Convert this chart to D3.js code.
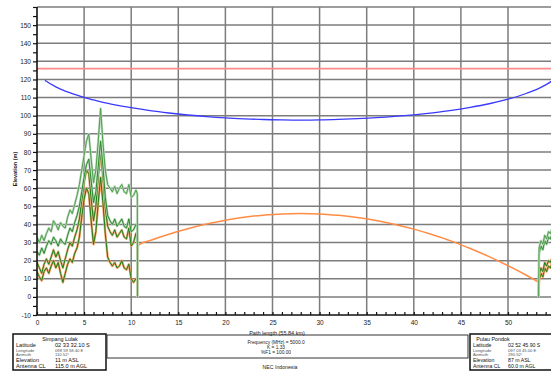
<!DOCTYPE html>
<html><head><meta charset="utf-8">
<script src="https://cdn.jsdelivr.net/npm/d3@7"></script>
<style>
html,body{margin:0;padding:0;background:#fff;overflow:hidden}
svg{display:block;font-family:"Liberation Sans",Arial,sans-serif}
</style></head><body>
<svg id="chart" width="551" height="372"></svg>
<script>
// ---- path profile data (distance in km, elevation in m) ----
const pathLengthKm = 55.84;
const losHeight = 126;

// near-end terrain, four profile traces
const nearKm = [0,0.25,0.5,0.75,1,1.25,1.5,1.75,2,2.25,2.5,2.75,3,3.25,3.5,3.75,4,4.25,4.5,4.75,5,5.25,5.5,5.75,6,6.25,6.5,6.75,7,7.25,7.5,7.75,8,8.25,8.5,8.75,9,9.25,9.5,9.75,10,10.25,10.5,10.65,10.67];
const nearTop    = [33,30,34,31,35,38,36,42,40,37,41,39,38,44,48,46,51,56,62,70,78,86,90,76,63,70,86,104,85,70,62,60,58,61,57,60,62,58,57,62,55,56,59,57,0];
const nearUpper  = [25,23,27,24,28,31,29,33,31,28,32,30,29,34,38,36,41,45,50,58,66,73,76,64,52,58,72,86,72,55,45,42,40,43,39,41,43,39,38,43,36,37,40,39,0];
const nearLower  = [19,16,13,18,21,18,22,26,22,25,20,16,21,26,30,28,33,37,43,53,63,70,68,54,42,50,66,80,66,49,39,36,34,37,33,35,37,33,32,38,28,30,35,33,0];
const nearBottom = [14,11,9,14,16,13,17,20,16,19,13,8,13,18,21,19,24,27,33,44,54,60,57,42,29,36,52,66,52,35,22,19,17,19,16,17,20,16,15,18,10,8,10,9,0];

// far-end terrain
const farKm = [53.25,53.3,53.5,53.7,53.9,54.1,54.3,54.5,54.7,54.9,55.1,55.3,55.5,55.84];
const farTop    = [0,27,31,29,34,32,36,35,38,36,39,41,40,42];
const farUpper  = [0,24,28,26,31,29,33,32,35,33,36,38,37,39];
const farLower  = [0,12,16,14,19,17,20,19,22,20,23,25,24,26];
const farBottom = [0,9,13,11,16,14,17,16,19,17,20,22,21,23];

// earth bulge across the water section
const bulgeKm = [10.67,10.8,12,14,16,18,20,22,24,26,28,30,32,34,36,38,40,42,44,46,48,50,52,53.2];
const bulgeM  = [0,28.7,31.1,34.6,37.6,40.2,42.3,44.0,45.1,45.8,46.0,45.8,45.0,43.8,42.2,40.0,37.4,34.3,30.8,26.7,22.2,17.2,11.8,8.3];

// lower edge of first Fresnel zone
const fresnelKm = [0.85,1,2,3,4,5,6,7,8,9,10,12,14,16,18,20,22,24,26,28,30,32,34,36,38,40,42,44,46,48,50,51,52,53,54,55];
const fresnelM  = [119.6,119,115.9,113.6,111.8,110.1,108.7,107.4,106.3,105.3,104.4,102.8,101.5,100.4,99.5,98.8,98.3,97.9,97.7,97.6,97.7,98,98.4,98.9,99.6,100.5,101.6,102.9,104.6,106.6,109.1,110.6,112.4,114.4,117,120.3];

// axis ticks
const yMinorTicks = d3.range(-10, 161, 5);
const xMinorTicks = d3.range(0, 56, 1);
const xGridTicks  = d3.range(5, 56, 5);
const yGridTicks  = d3.range(0, 161, 10);

const siteA = {name:"Simpang Lulak", rows:[["Latitude","02 33 32.10 S"],["Longitude","098 59 58.40 E"],["Azimuth","110.52°"],["Elevation","11 m ASL"],["Antenna CL","115.0 m AGL"]]};
const siteB = {name:"Pulau Pondok", rows:[["Latitude","02 52 45.90 S"],["Longitude","097 03 45.00 E"],["Azimuth","290.52°"],["Elevation","87 m ASL"],["Antenna CL","60.0 m AGL"]]};
const linkInfo = ["Frequency (MHz) = 5000.0", "K = 1.33", "%F1 = 100.00"];

// ---- drawing ----
const svg = d3.select("#chart");
const x = d3.scaleLinear().domain([0, pathLengthKm]).range([37, 563]);
const y = d3.scaleLinear().domain([-10, 160]).range([315, 7]);

svg.append("defs").append("clipPath").attr("id","plotClip")
  .append("rect").attr("x",37).attr("y",6).attr("width",530).attr("height",310);

const grid = svg.append("g").attr("stroke","#7c7c7c").attr("stroke-width",1.5);
grid.selectAll(".h").data(yGridTicks).join("line")
  .attr("x1",x(0)).attr("x2",x(pathLengthKm)).attr("y1",d=>y(d)).attr("y2",d=>y(d));
grid.selectAll(".v").data(xGridTicks).join("line")
  .attr("x1",d=>x(d)).attr("x2",d=>x(d)).attr("y1",y(160)).attr("y2",y(-10));

const plot = svg.append("g").attr("clip-path","url(#plotClip)");
const zipKm = (km, v) => km.map((k,i)=>[k, v[i]]);
const straight = d3.line().x(d=>x(d[0])).y(d=>y(d[1]));
const smooth = d3.line().x(d=>x(d[0])).y(d=>y(d[1])).curve(d3.curveMonotoneX);

// line of sight
plot.append("path").datum([[0,losHeight],[pathLengthKm,losHeight]])
  .attr("d",straight).attr("fill","none").attr("stroke","#ff8a8a").attr("stroke-width",1.6);

// Fresnel zone
plot.append("path").datum(zipKm(fresnelKm,fresnelM))
  .attr("d",smooth).attr("fill","none").attr("stroke","#3a3aff").attr("stroke-width",1.3);

// earth bulge
plot.append("path").datum(zipKm(bulgeKm,bulgeM))
  .attr("d",smooth).attr("fill","none").attr("stroke","#ff8c45").attr("stroke-width",1.5);

const traces = [
  {near:nearBottom, far:farBottom, halo:"#f5a060", core:"#1d7d1d"},
  {near:nearLower,  far:farLower,  halo:"#e8ac78", core:"#1a801a"},
  {near:nearUpper,  far:farUpper,  halo:"#b4d4b4", core:"#2a8a2a"},
  {near:nearTop,    far:farTop,    halo:"#bcdabc", core:"#4f9f4f"}
];
traces.forEach(t=>{
  [[nearKm,t.near],[farKm,t.far]].forEach(([km,v])=>{
    const pts = zipKm(km,v);
    plot.append("path").datum(pts).attr("d",straight).attr("fill","none")
      .attr("stroke",t.halo).attr("stroke-width",2.3).attr("stroke-linejoin","round");
    plot.append("path").datum(pts).attr("d",straight).attr("fill","none")
      .attr("stroke",t.core).attr("stroke-width",1).attr("stroke-linejoin","round");
  });
});

// axes
const yAxis = d3.axisLeft(y).tickValues(yMinorTicks).tickSize(4).tickPadding(2)
  .tickFormat(d => (d % 10 === 0 && d <= 150) ? d : "");
const gy = svg.append("g").attr("transform","translate(37,0)").call(yAxis);
gy.select(".domain").remove();
gy.selectAll("line").attr("stroke","#111").attr("stroke-width",1.2);
gy.selectAll("text").attr("font-size",6.5).attr("fill","#222");

const xAxis = d3.axisBottom(x).tickValues(xMinorTicks).tickSize(-3).tickPadding(5)
  .tickFormat(d => (d % 5 === 0 && d <= 50) ? d : "");
const gx = svg.append("g").attr("transform","translate(0,315)").call(xAxis);
gx.select(".domain").remove();
gx.selectAll("line").attr("stroke","#111").attr("stroke-width",1.2);
gx.selectAll("text").attr("font-size",6.5).attr("fill","#222");

svg.append("line").attr("x1",37).attr("x2",37).attr("y1",y(160)).attr("y2",315)
  .attr("stroke","#111").attr("stroke-width",1.6);
svg.append("line").attr("x1",37).attr("x2",x(pathLengthKm)).attr("y1",315).attr("y2",315)
  .attr("stroke","#111").attr("stroke-width",1.6);

// axis titles
svg.append("text").attr("transform","translate(17,169) rotate(-90)")
  .attr("text-anchor","middle").attr("font-size",5.5).attr("font-weight","bold").attr("fill","#222")
  .text("Elevation (m)");
svg.append("text").attr("x",277).attr("y",334.5).attr("text-anchor","middle")
  .attr("font-size",5.5).attr("fill","#222").text(`Path length (${pathLengthKm.toFixed(2)} km)`);

// site boxes
function siteBox(site, bx, bw, titleX, valueX, small){
  const g = svg.append("g");
  g.append("rect").attr("x",bx).attr("y",334).attr("width",bw).attr("height",36)
    .attr("fill","none").attr("stroke","#111").attr("stroke-width",1.5);
  g.append("text").attr("x",titleX).attr("y",340.5).attr("text-anchor","middle")
    .attr("font-size",5.4).attr("fill","#111").text(site.name);
  const rowY = [346.5,351.5,356,362,367.5];
  const faint = [false,true,true,false,false];
  site.rows.forEach((r,i)=>{
    const fs = faint[i] ? 4.2 : small;
    const col = faint[i] ? "#555" : "#111";
    g.append("text").attr("x",bx+3).attr("y",rowY[i]).attr("font-size",fs).attr("fill",col).text(r[0]);
    g.append("text").attr("x",valueX).attr("y",rowY[i]).attr("font-size",fs).attr("fill",col).text(r[1]);
  });
}
siteBox(siteA, 13, 93, 60, 55, 5.6);
siteBox(siteB, 470, 93, 493, 508, 5.2);

svg.append("rect").attr("x",107).attr("y",335).attr("width",361).attr("height",23)
  .attr("fill","none").attr("stroke","#333").attr("stroke-width",1);
linkInfo.forEach((t,i)=>{
  svg.append("text").attr("x",276).attr("y",343.5+i*5).attr("text-anchor","middle")
    .attr("font-size",4.8).attr("fill","#222").text(t);
});
svg.append("text").attr("x",280).attr("y",369).attr("text-anchor","middle")
  .attr("font-size",5.2).attr("fill","#222").text("NEC Indonesia");
</script>
</body></html>
